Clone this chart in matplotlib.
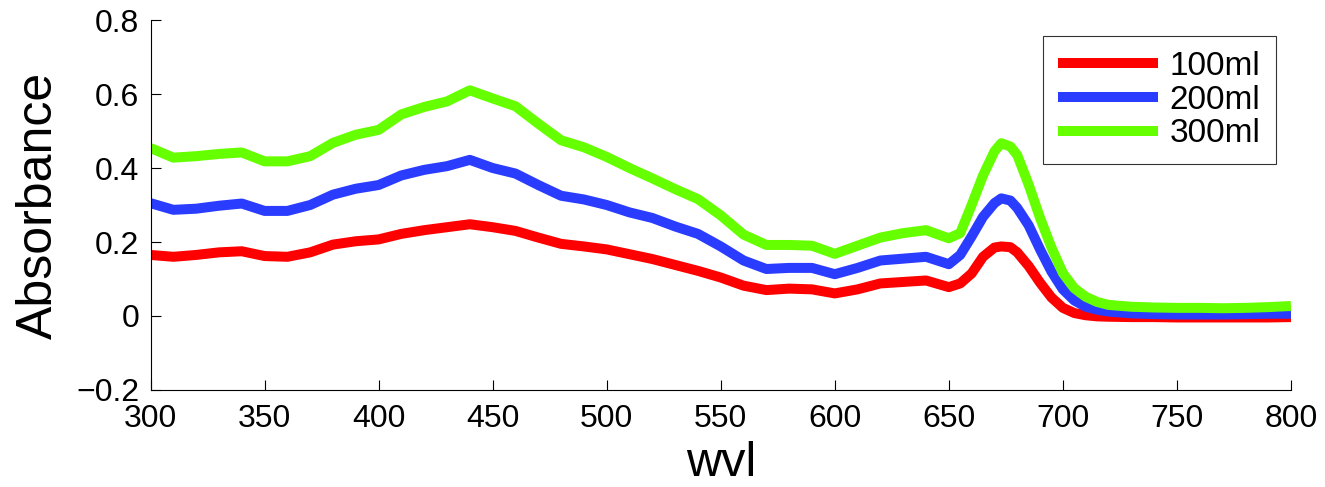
import matplotlib
matplotlib.use('Agg')
import matplotlib.pyplot as plt

wvl = [300, 310, 320, 330, 340, 350, 360, 370, 380, 390, 400, 410, 420, 430, 440, 450,
       460, 470, 480, 490, 500, 510, 520, 530, 540, 550, 560, 570, 580, 590, 600, 610,
       620, 630, 640, 650, 655, 660, 665, 670, 673, 677, 680, 685, 690, 695, 700, 705,
       710, 715, 720, 730, 740, 750, 760, 770, 780, 790, 800]

abs_100ml = [0.165, 0.160, 0.165, 0.172, 0.175, 0.162, 0.160, 0.172, 0.193, 0.202, 0.207,
             0.222, 0.232, 0.240, 0.248, 0.240, 0.230, 0.212, 0.195, 0.188, 0.180, 0.167,
             0.154, 0.138, 0.122, 0.104, 0.082, 0.070, 0.074, 0.072, 0.061, 0.072, 0.088,
             0.092, 0.096, 0.078, 0.088, 0.115, 0.160, 0.185, 0.188, 0.186, 0.172, 0.135,
             0.090, 0.050, 0.022, 0.008, 0.002, -0.001, -0.002, -0.003, -0.003, -0.004,
             -0.004, -0.004, -0.004, -0.004, -0.003]

abs_200ml = [0.305, 0.287, 0.290, 0.298, 0.304, 0.284, 0.284, 0.300, 0.328, 0.344, 0.354,
             0.380, 0.395, 0.405, 0.422, 0.400, 0.385, 0.354, 0.325, 0.315, 0.300, 0.280,
             0.265, 0.242, 0.222, 0.188, 0.150, 0.127, 0.130, 0.130, 0.113, 0.130, 0.150,
             0.155, 0.160, 0.140, 0.165, 0.215, 0.268, 0.305, 0.318, 0.312, 0.292, 0.245,
             0.180, 0.120, 0.072, 0.042, 0.025, 0.017, 0.012, 0.007, 0.005, 0.004, 0.004,
             0.004, 0.005, 0.006, 0.006]

abs_300ml = [0.454, 0.428, 0.432, 0.438, 0.442, 0.418, 0.418, 0.432, 0.468, 0.490, 0.503,
             0.545, 0.565, 0.580, 0.610, 0.588, 0.567, 0.520, 0.475, 0.456, 0.430, 0.400,
             0.372, 0.343, 0.316, 0.272, 0.220, 0.192, 0.192, 0.190, 0.168, 0.190, 0.212,
             0.224, 0.232, 0.210, 0.224, 0.300, 0.380, 0.445, 0.467, 0.458, 0.435, 0.355,
             0.265, 0.185, 0.116, 0.075, 0.052, 0.038, 0.030, 0.025, 0.023, 0.022, 0.022,
             0.021, 0.022, 0.024, 0.027]

labels = ['100ml', '200ml', '300ml']
colors = ['#ff0000', '#2a3cff', '#66ff00']

plt.rcParams['font.family'] = ['Liberation Sans', 'DejaVu Sans']

fig = plt.figure(figsize=(13.25, 4.87), dpi=100)
ax = fig.add_axes([0.1136, 0.1992, 0.8607, 0.7597])

for ys, lab, c in zip([abs_100ml, abs_200ml, abs_300ml], labels, colors):
  ax.plot(wvl, ys, color=c, lw=7.2, label=lab, solid_capstyle='butt')

ax.set_xlim(300, 800)
ax.set_ylim(-0.2, 0.8)
ax.set_xticks(range(300, 801, 50))
ax.set_yticks([-0.2, 0, 0.2, 0.4, 0.6, 0.8])
ax.set_yticklabels(['\u22120.2', '0', '0.2', '0.4', '0.6', '0.8'])
ax.tick_params(direction='in', length=7.5, width=0.8, labelsize=23)
ax.tick_params(axis='x', pad=10)
ax.tick_params(axis='y', pad=8)
for s in ['top', 'right']:
  ax.spines[s].set_visible(False)
for s in ['left', 'bottom']:
  ax.spines[s].set_linewidth(0.8)

ax.set_xlabel('wvl', fontsize=35, labelpad=5)
ax.set_ylabel('Absorbance', fontsize=36, labelpad=10)

leg = ax.legend(loc='upper right', bbox_to_anchor=(0.9866, 0.957), fontsize=24,
                frameon=True, fancybox=False, handlelength=3.0, handletextpad=0.36,
                labelspacing=0.08, borderpad=0.45, borderaxespad=0)
leg.get_frame().set_edgecolor('black')
leg.get_frame().set_linewidth(0.8)

fig.savefig('out.png', dpi=100)
